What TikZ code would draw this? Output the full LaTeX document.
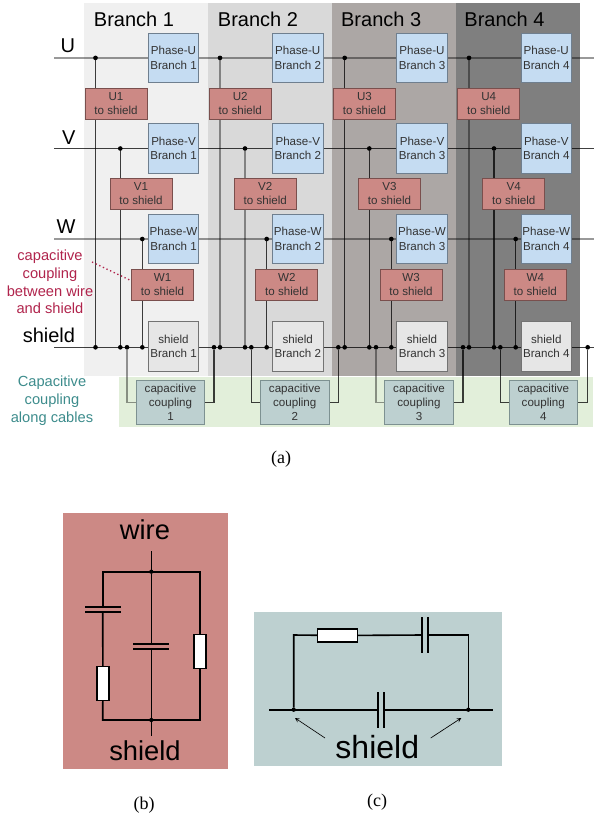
\documentclass[tikz,border=0pt]{standalone}
\usepackage{fontspec}
\setmainfont{Liberation Sans}
\newfontfamily\capfont{Liberation Serif}
\usetikzlibrary{arrows, positioning, backgrounds}

\definecolor{bandone}{HTML}{F0F0F0}
\definecolor{bandtwo}{HTML}{D9D9D9}
\definecolor{bandthree}{HTML}{ACA7A5}
\definecolor{bandfour}{HTML}{7F7F7F}
\definecolor{greenband}{HTML}{E2EFDA}
\definecolor{phaseblue}{HTML}{C5DCF2}
\definecolor{phaseedge}{HTML}{6F7F8F}
\definecolor{shieldfill}{HTML}{E6E6E6}
\definecolor{redfill}{HTML}{CC8985}
\definecolor{rededge}{HTML}{7A4F4D}
\definecolor{tealfill}{HTML}{BDD0D0}
\definecolor{tealedge}{HTML}{7D9191}
\definecolor{crimson}{HTML}{B0244C}
\definecolor{tealtext}{HTML}{3D8C8C}

\begin{document}
\begin{tikzpicture}[
  x=0.75pt, y=-0.75pt,
  every node/.style={outer sep=0pt},
  band/.style={rectangle, minimum width=93pt, minimum height=279.75pt, inner sep=0pt},
  panel/.style={rectangle, inner sep=0pt},
  phase/.style={rectangle, draw=phaseedge, fill=phaseblue, line width=0.7pt, minimum width=37.8pt, minimum height=37.3pt, inner sep=0pt, align=center, text=black!80, font=\fontsize{8.7}{10.7}\selectfont},
  shieldbox/.style={phase, fill=shieldfill, draw=black!55},
  coupling/.style={phase, fill=redfill, draw=rededge, minimum width=46.5pt, minimum height=23.25pt},
  along/.style={phase, fill=tealfill, draw=tealedge, minimum width=51.3pt, minimum height=33pt},
  jdot/.style={circle, fill=black, minimum size=3.5pt, inner sep=0pt},
  wire/.style={black, opacity=0.75, line width=0.8pt},
  paleline/.style={black, opacity=0.4, line width=1.1pt},
  big/.style={anchor=base east, font=\fontsize{15}{18}\selectfont},
  head/.style={anchor=base west, font=\fontsize{15}{18}\selectfont},
  note/.style={align=center, font=\fontsize{11}{13.3}\selectfont},
  cct/.style={black, line width=1.2pt},
  rv/.style={rectangle, draw=black, fill=white, line width=1.1pt, minimum width=9pt, minimum height=25.5pt, inner sep=0pt},
  rh/.style={rv, minimum width=30pt, minimum height=9.5pt},
  plateh/.style={rectangle, fill=black, minimum width=27pt, minimum height=1.2pt, inner sep=0pt},
  platev/.style={rectangle, fill=black, minimum width=1.2pt, minimum height=27pt, inner sep=0pt},
  tiny/.style={circle, fill=black, minimum size=3.2pt, inner sep=0pt},
  arrow/.style={->, >=stealth, line width=0.5pt},
  caption/.style={font=\capfont\fontsize{13.5}{16}\selectfont}
]
  \useasboundingbox (0,0) rectangle (594,821);

  \begin{scope}[on background layer]
    \node[band, fill=bandone] (bandA) at (145.5,189.5) {};
    \node[band, fill=bandtwo, right=0pt of bandA] (bandB) {};
    \node[band, fill=bandthree, right=0pt of bandB] (bandC) {};
    \node[band, fill=bandfour, right=0pt of bandC] (bandD) {};
    \node[panel, fill=greenband, minimum width=355.5pt, minimum height=37.5pt] (greenstrip) at (356,402) {};
  \end{scope}

  \node[head] (headA) at (89.5,26.5) {Branch 1};
  \node[head] (headB) at (213.5,26.5) {Branch 2};
  \node[head] (headC) at (336.7,26.5) {Branch 3};
  \node[head] (headD) at (460,26.5) {Branch 4};

  \node[big] (lblu) at (79.5,52.7) {U};
  \node[big] (lblv) at (80,144.3) {V};
  \node[big] (lblw) at (80,233.3) {W};
  \node[big] (lbls) at (79.5,342.3) {shield};

  % phase boxes
  \node[phase] (phu1) at (173.5,57.9) {Phase-U\\Branch 1};
  \node[phase, right=55.4pt of phu1] (phu2) {Phase-U\\Branch 2};
  \node[phase, right=55.4pt of phu2] (phu3) {Phase-U\\Branch 3};
  \node[phase, right=55.4pt of phu3] (phu4) {Phase-U\\Branch 4};

  \node[phase, below=30.6pt of phu1] (phv1) {Phase-V\\Branch 1};
  \node[phase, below=30.6pt of phu2] (phv2) {Phase-V\\Branch 2};
  \node[phase, below=30.6pt of phu3] (phv3) {Phase-V\\Branch 3};
  \node[phase, below=30.6pt of phu4] (phv4) {Phase-V\\Branch 4};

  \node[phase, below=30.6pt of phv1] (phw1) {Phase-W\\Branch 1};
  \node[phase, below=30.6pt of phv2] (phw2) {Phase-W\\Branch 2};
  \node[phase, below=30.6pt of phv3] (phw3) {Phase-W\\Branch 3};
  \node[phase, below=30.6pt of phv4] (phw4) {Phase-W\\Branch 4};

  \node[shieldbox, below=43.5pt of phw1] (shb1) {shield\\Branch 1};
  \node[shieldbox, below=43.5pt of phw2] (shb2) {shield\\Branch 2};
  \node[shieldbox, below=43.5pt of phw3] (shb3) {shield\\Branch 3};
  \node[shieldbox, below=43.5pt of phw4] (shb4) {shield\\Branch 4};

  % wire to shield boxes
  \node[coupling, below left=4pt and 1pt of phu1] (ru1) {U1\\to shield};
  \node[coupling, below left=4pt and 1pt of phu2] (ru2) {U2\\to shield};
  \node[coupling, below left=4pt and 1pt of phu3] (ru3) {U3\\to shield};
  \node[coupling, below left=4pt and 1pt of phu4] (ru4) {U4\\to shield};

  \node[coupling, below left=3.75pt and -17.8pt of phv1] (rv1) {V1\\to shield};
  \node[coupling, below left=3.75pt and -17.8pt of phv2] (rv2) {V2\\to shield};
  \node[coupling, below left=3.75pt and -17.8pt of phv3] (rv3) {V3\\to shield};
  \node[coupling, below left=3.75pt and -17.8pt of phv4] (rv4) {V4\\to shield};

  \node[coupling, below left=4pt and -33.9pt of phw1] (rw1) {W1\\to shield};
  \node[coupling, below left=4pt and -33.9pt of phw2] (rw2) {W2\\to shield};
  \node[coupling, below left=4pt and -33.9pt of phw3] (rw3) {W3\\to shield};
  \node[coupling, below left=4pt and -33.9pt of phw4] (rw4) {W4\\to shield};

  % along the cable
  \node[along, below=6.6pt of shb1, xshift=-2.25pt] (cc1) {capacitive\\coupling\\1};
  \node[along, below=6.6pt of shb2, xshift=-2.25pt] (cc2) {capacitive\\coupling\\2};
  \node[along, below=6.6pt of shb3, xshift=-2.25pt] (cc3) {capacitive\\coupling\\3};
  \node[along, below=6.6pt of shb4, xshift=-2.25pt] (cc4) {capacitive\\coupling\\4};

  \node[note, text=crimson] (noteA) at (50,282) {capacitive\\coupling\\between wire\\and shield};
  \node[note, text=tealtext] (noteB) at (52,400.5) {Capacitive\\coupling\\along cables};

  % junctions on the wires
  \node[jdot] (du1) at (95.5,57.9) {};
  \node[jdot] (du2) at (220,57.9) {};
  \node[jdot] (du3) at (344.7,57.9) {};
  \node[jdot] (du4) at (469,57.9) {};
  \node[jdot] (dv1) at (120.3,148.5) {};
  \node[jdot] (dv2) at (245,148.5) {};
  \node[jdot] (dv3) at (369.3,148.5) {};
  \node[jdot] (dv4) at (494,148.5) {};
  \node[jdot] (dw1) at (142.3,239) {};
  \node[jdot] (dw2) at (266.7,239) {};
  \node[jdot] (dw3) at (391.3,239) {};
  \node[jdot] (dw4) at (515.7,239) {};

  % junctions on the shield
  \node[jdot] (su1) at (95.5,347.3) {};
  \node[jdot] (sv1) at (120.3,347.3) {};
  \node[jdot] (sc1) at (127,347.3) {};
  \node[jdot] (sw1) at (142.3,347.3) {};
  \node[jdot] (se1) at (214,347.3) {};
  \node[jdot] (su2) at (220,347.3) {};
  \node[jdot] (sv2) at (245,347.3) {};
  \node[jdot] (sc2) at (251.3,347.3) {};
  \node[jdot] (sw2) at (266.7,347.3) {};
  \node[jdot] (se2) at (338.3,347.3) {};
  \node[jdot] (su3) at (344.7,347.3) {};
  \node[jdot] (sv3) at (369.3,347.3) {};
  \node[jdot] (sc3) at (376,347.3) {};
  \node[jdot] (sw3) at (391.3,347.3) {};
  \node[jdot] (se3) at (463,347.3) {};
  \node[jdot] (su4) at (469,347.3) {};
  \node[jdot] (sv4) at (494,347.3) {};
  \node[jdot] (sc4) at (500.3,347.3) {};
  \node[jdot] (sw4) at (515.7,347.3) {};
  \node[jdot] (se4) at (587.7,347.3) {};

  \coordinate (ul) at (54,57.9);
  \coordinate (ur) at (594,57.9);
  \coordinate (vl) at (54,148.5);
  \coordinate (vr) at (594,148.5);
  \coordinate (wl) at (54,239);
  \coordinate (wr) at (594,239);
  \coordinate (sl) at (54,347.3);
  \coordinate (sr) at (594,347.3);
  \coordinate (notefrom) at (92,262);

  \begin{scope}[on background layer]
    \draw[paleline] (ul) -- (ur);
    \draw[wire] (vl) -- (vr);
    \draw[paleline] (wl) -- (wr);
    \draw[wire] (sl) -- (sr);

    \draw[wire] (du1) -- (su1);
    \draw[paleline] (du2) -- (su2);
    \draw[wire] (du3) -- (su3);
    \draw[paleline] (du4) -- (su4);
    \draw[wire] (dv1) -- (sv1);
    \draw[paleline] (dv2) -- (sv2);
    \draw[wire] (dv3) -- (sv3);
    \draw[wire] (dv4) -- (sv4);
    \draw[wire] (dw1) -- (sw1);
    \draw[wire] (dw2) -- (sw2);
    \draw[wire] (dw3) -- (sw3);
    \draw[wire] (dw4) -- (sw4);

    \draw[paleline] (sc1) |- (cc1.west);
    \draw[wire] (cc1.east) -| (se1);
    \draw[wire] (sc2) |- (cc2.west);
    \draw[wire] (cc2.east) -| (se2);
    \draw[paleline] (sc3) |- (cc3.west);
    \draw[wire] (cc3.east) -| (se3);
    \draw[wire] (sc4) |- (cc4.west);
    \draw[wire] (cc4.east) -| (se4);
  \end{scope}

  \draw[crimson, line width=1pt, dotted] (notefrom) -- (rw1.173);

  \node[caption] (capa) at (281,459) {(a)};

  % (b)
  \node[panel, fill=redfill, minimum width=123.5pt, minimum height=192pt] (panelb) at (145.3,640.7) {};
  \node[font=\fontsize{20.5}{24}\selectfont] (wiretxt) at (145,530) {wire};
  \node[font=\fontsize{20.5}{24}\selectfont] (shieldtxt) at (145,751) {shield};
  \coordinate (wirein) at (151.3,551);
  \coordinate (shieldout) at (151.3,735.7);
  \node[tiny] (jtop) at (151.3,571.7) {};
  \node[tiny] (jbot) at (151.3,720) {};
  \coordinate (tl) at (102.7,571.7);
  \coordinate (tr) at (200,571.7);
  \coordinate (bl) at (102.7,720);
  \coordinate (br) at (200,720);
  \node[plateh] (capla) at (102.7,606.7) {};
  \node[plateh] (caplb) at (102.7,611.7) {};
  \node[plateh] (capma) at (151.3,643.7) {};
  \node[plateh] (capmb) at (151.3,648.7) {};
  \node[rv] (resl) at (102.9,683.3) {};
  \node[rv] (resr) at (200,651.5) {};
  \draw[cct] (wirein) -- (jtop);
  \draw[cct] (jbot) -- (shieldout);
  \draw[cct] (capla) -- (tl) -- (tr) -- (resr);
  \draw[cct] (caplb) -- (resl);
  \draw[cct] (resl) -- (bl) -- (br) -- (resr);
  \draw[cct] (jtop) -- (capma);
  \draw[cct] (capmb) -- (jbot);

  \node[caption] (capb) at (144,805) {(b)};

  % (c)
  \node[panel, fill=tealfill, minimum width=185.5pt, minimum height=115.5pt] (panelc) at (378,689) {};
  \coordinate (ct) at (293.7,635);
  \coordinate (cu) at (468.3,635);
  \coordinate (lineleft) at (269,709.7);
  \coordinate (lineright) at (492.7,709.7);
  \node[tiny] (jl) at (293.7,709.7) {};
  \node[tiny] (jr) at (468.3,709.7) {};
  \node[rh] (resc) at (337.5,635.5) {};
  \node[platev] (captopa) at (422,635) {};
  \node[platev] (captopb) at (428,635) {};
  \node[platev] (caplowa) at (378,709.7) {};
  \node[platev] (caplowb) at (384,709.7) {};
  \node[font=\fontsize{24}{28}\selectfont] (shieldc) at (377.3,747) {shield};
  \coordinate (arrowl) at (295,718);
  \coordinate (arrowr) at (461.3,718);
  \coordinate (arrowlfrom) at (325,738);
  \coordinate (arrowrfrom) at (430.7,738);
  \draw[cct] (jl) -- (ct) -- (resc);
  \draw[cct] (resc) -- (captopa);
  \draw[cct] (captopb) -- (cu) -- (jr);
  \draw[cct] (lineleft) -- (caplowa);
  \draw[cct] (caplowb) -- (lineright);
  \draw[arrow] (arrowlfrom) -- (arrowl);
  \draw[arrow] (arrowrfrom) -- (arrowr);

  \node[caption] (capc) at (377,802) {(c)};
\end{tikzpicture}
\end{document}
